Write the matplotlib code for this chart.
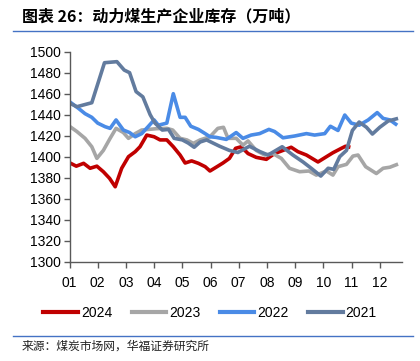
import matplotlib
matplotlib.use("Agg")
import matplotlib.pyplot as plt
from matplotlib.lines import Line2D

plt.rcParams['font.family'] = ['Liberation Sans', 'Noto Sans CJK SC', 'DejaVu Sans']

month_labels = ['01', '02', '03', '04', '05', '06', '07', '08', '09', '10', '11', '12']

# x positions in months (0 = Jan)
x_2024 = [0.02, 0.24, 0.50, 0.73, 0.97, 1.20, 1.42, 1.62, 1.85, 2.09, 2.33, 2.50, 2.74, 3.0, 3.21,
          3.45, 3.68, 3.92, 4.10, 4.33, 4.57, 4.81, 4.98,
          5.26, 5.44, 5.67, 5.89, 6.09, 6.33, 6.62, 6.98, 7.27, 7.51, 7.86, 8.10, 8.40, 8.81,
          9.11, 9.34, 9.64, 9.79, 9.96]
v_2024 = [1394, 1391, 1393.7, 1389, 1391, 1385.7, 1379.4, 1371.4, 1389, 1400, 1404.8, 1409.5,
          1420.6, 1419, 1416, 1416, 1409.5, 1401.6, 1394, 1396, 1393.7, 1390.5, 1386.4,
          1391, 1394, 1398.4, 1408, 1409.5, 1403, 1399.4, 1397.5, 1403, 1405.4, 1409, 1404.8,
          1401.6, 1395, 1400, 1403.8, 1408, 1410, 1409]

x_2023 = [0.02, 0.26, 0.55, 0.79, 0.97, 1.20, 1.44, 1.65, 1.91, 2.09, 2.33, 2.56, 2.80, 3.09,
          3.45, 3.66, 3.92, 4.16, 4.39, 4.63, 4.98,
          5.26, 5.46, 5.62, 5.91, 6.15, 6.33, 6.62, 6.92, 7.21, 7.51, 7.80, 8.16, 8.49, 8.75,
          9.11, 9.34, 9.52, 9.82, 10.05, 10.23, 10.50, 10.88, 11.12, 11.36, 11.65]
v_2023 = [1428.6, 1424, 1417.5, 1409.5, 1398.4, 1406, 1417.5, 1427, 1423, 1417.5, 1422, 1425.4,
          1426, 1426.7, 1427, 1425.4, 1417.5, 1416, 1412.7, 1416, 1419,
          1427, 1428, 1417.5, 1417.5, 1411, 1415, 1406, 1401.6, 1403, 1398.4, 1389, 1385.7,
          1386.4, 1382.5, 1386.4, 1382.5, 1390.5, 1392.7, 1400.6, 1401.6, 1390.5, 1384, 1389,
          1390, 1393]

x_2022 = [0.02, 0.32, 0.55, 0.79, 1.0, 1.26, 1.44, 1.65, 1.91, 2.13, 2.33, 2.56, 2.80, 3.0, 3.15,
          3.45, 3.68, 3.92, 4.10, 4.30, 4.57, 4.81, 4.98,
          5.20, 5.56, 5.91, 6.15, 6.44, 6.74, 7.07, 7.27, 7.57, 7.98, 8.40, 8.69, 9.05, 9.25,
          9.52, 9.76, 9.99, 10.27, 10.59, 10.91, 11.12, 11.36, 11.62]
v_2022 = [1452, 1446, 1441, 1437.5, 1432, 1428.6, 1427, 1435, 1425.4, 1423, 1419, 1422, 1429,
          1435, 1430, 1432, 1460, 1437.5, 1437.5, 1429, 1426, 1422, 1419,
          1418.4, 1416.5, 1423, 1417.5, 1420.6, 1422, 1426, 1424, 1418, 1419.7, 1422, 1420.6,
          1422, 1429, 1425, 1439.7, 1432, 1430, 1435, 1442, 1436.5, 1435, 1430]

x_2021 = [0.02, 0.26, 0.79, 1.24, 1.68, 1.94, 2.13, 2.36, 2.60, 2.86, 3.03, 3.29, 3.51, 3.71,
          4.0, 4.21, 4.42, 4.63, 4.86,
          5.32, 5.67, 5.97, 6.38, 6.74, 7.04, 7.54, 7.92, 8.28, 8.57, 8.91, 9.17, 9.37, 9.58,
          9.82, 10.03, 10.27, 10.53, 10.74, 11.0, 11.30, 11.65]
v_2021 = [1450.8, 1447.6, 1451.4, 1489.5, 1490.5, 1482.5, 1480, 1462, 1457, 1440, 1432, 1425.4,
          1426, 1417.5, 1416, 1413, 1409, 1414, 1416,
          1410, 1406, 1404, 1410, 1405, 1401.6, 1409.5, 1401.6, 1395, 1389, 1381.6, 1389, 1388,
          1400, 1406, 1425, 1433, 1428, 1421.6, 1428, 1434, 1436.5]

series = [
    ('2024', x_2024, v_2024, '#C00000'),
    ('2023', x_2023, v_2023, '#A6A6A6'),
    ('2022', x_2022, v_2022, '#4A8BE6'),
    ('2021', x_2021, v_2021, '#627B9E'),
]

fig = plt.figure(figsize=(4.2, 3.61), dpi=100)
ax = fig.add_axes([0.1655, 0.275, 0.7917, 0.5818])

for name, xs, vs, c in series:
    ax.plot(xs, vs, color=c, lw=2.6, solid_joinstyle='round', solid_capstyle='butt')

ax.set_xlim(0, 11.79)
ax.set_ylim(1300, 1500)
ax.set_yticks(range(1300, 1501, 20))
ax.set_xticks(range(12))
ax.set_xticklabels(month_labels)
for s in ['top', 'right']:
    ax.spines[s].set_visible(False)
for s in ['left', 'bottom']:
    ax.spines[s].set_color('#595959')
    ax.spines[s].set_linewidth(1.0)
ax.tick_params(axis='y', direction='out', length=4, width=1, color='#595959', labelsize=10, pad=2)
ax.tick_params(axis='x', direction='out', length=4, width=1, color='#595959', labelsize=10, pad=6)

handles = [Line2D([], [], color=c, lw=3) for _, _, _, c in series]
fig.legend(handles, [s[0] for s in series], loc='center', bbox_to_anchor=(0.5, 1 - 313 / 361),
           ncol=4, frameon=False, fontsize=10, handlelength=2.5, handletextpad=0.2,
           columnspacing=1.4)

# title and separators
fig.text(22 / 420, 1 - 16 / 361, '图表 26：动力煤生产企业库存（万吨）', fontsize=11.5,
         fontweight='bold', family=['Noto Sans CJK SC', 'DejaVu Sans'], va='center', ha='left')
fig.add_artist(Line2D([13 / 420, 413 / 420], [1 - 31 / 361, 1 - 31 / 361], color='#4472C4', lw=1))
fig.add_artist(Line2D([13 / 420, 413 / 420], [1 - 336 / 361, 1 - 336 / 361], color='#4472C4', lw=1))
fig.text(22 / 420, 1 - 346 / 361, '来源：煤炭市场网，华福证券研究所', fontsize=8.5,
         family=['Noto Sans CJK SC', 'DejaVu Sans'], va='center', ha='left', color='#222222')

fig.savefig('out.png', dpi=100)
